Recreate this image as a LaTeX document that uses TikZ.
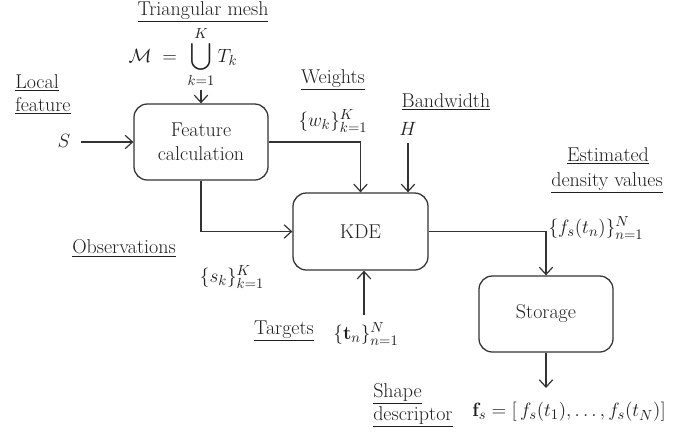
\documentclass[tikz,border=0pt]{standalone}
\usepackage{amsmath}
\usetikzlibrary{arrows.meta}
\begin{document}
\begin{tikzpicture}[x=0.75pt,y=-0.75pt,
  every node/.style={font=\fontsize{15}{18}\selectfont, text=black!88, inner sep=0pt},
  blockbox/.style={draw=black!80, line width=0.95pt, rounded corners=10pt,
     minimum width=100.5pt, minimum height=57pt, align=center},
  arr/.style={draw=black!80, line width=0.95pt, -{Straight Barb[length=5.5pt,width=10pt,line width=0.9pt]}},
  lbl/.style={anchor=base},
  lblw/.style={anchor=base west}]
\useasboundingbox (0,0) rectangle (673,440);

% blocks
\node[blockbox] (feat) at (201,142) {Feature\\calculation};
\node[blockbox, minimum width=101.25pt, minimum height=57.75pt] (kde) at (360.5,231.5) {KDE};
\node[blockbox] (sto) at (546,314) {Storage};

% labels
\node[lbl] (mesh) at (203,15) {\underline{Triangular mesh}};
\node (meq) at (183,57) {$\displaystyle \mathcal{M} \;=\; \bigcup_{\scriptstyle k=1}^{\scriptstyle K} T_k$};
\node[lblw] (loc1) at (15,88) {\underline{Local}};
\node[lblw] (loc2) at (15,111) {\underline{feature}};
\node (S) at (64,141) {$S$};
\node[lbl] (wgt) at (333,83) {\underline{Weights}};
\node (wk) at (333,121) {$\{w_k\}_{k=1}^{K}$};
\node[lbl] (bw) at (446,107) {\underline{Bandwidth}};
\node (H) at (408,129) {$H$};
\node[lbl] (est1) at (608,161) {\underline{Estimated}};
\node[lbl] (est2) at (607,186) {\underline{density values}};
\node (fst) at (596,228) {$\{f_s(t_n)\}_{n=1}^{N}$};
\node[lbl] (obs) at (124,253) {\underline{Observations}};
\node (sk) at (232,277) {$\{s_k\}_{k=1}^{K}$};
\node[lbl] (tgt) at (284,334) {\underline{Targets}};
\node (tn) at (366,334) {$\{\mathbf{t}_n\}_{n=1}^{N}$};
\node[lblw] (shp1) at (373,397) {\underline{Shape}};
\node[lblw] (shp2) at (373,420) {\underline{descriptor}};
\node (fs) at (569,412) {$\mathbf{f}_s = [\,f_s(t_1),\ldots,f_s(t_N)]$};

% free ends
\coordinate (sIn) at (81,142);
\coordinate (mIn) at (201,90);
\coordinate (hIn) at (408,143);
\coordinate (tIn) at (364,315);
\coordinate (fOut) at (546,388);

% connectors
\draw[arr] (sIn) -- (feat.west);
\draw[arr] (mIn) -- (feat.north);
\draw[arr] (feat.east) -| (kde.north);
\draw[arr] (hIn) -- (hIn |- kde.north);
\draw[arr] (feat.south) |- (kde.west);
\draw[arr] (tIn) -- (tIn |- kde.south);
\draw[arr] (kde.east) -| (sto.north);
\draw[arr] (sto.south) -- (fOut);
\end{tikzpicture}
\end{document}
